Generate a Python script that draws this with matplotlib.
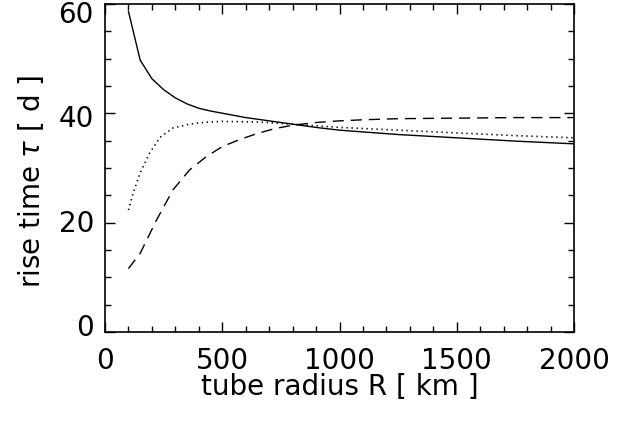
import numpy as np
import matplotlib.pyplot as plt
import matplotlib.transforms as mtransforms
from matplotlib.ticker import MultipleLocator

# tube radius R [km]
R_solid = [100, 150, 200, 250, 300, 350, 400, 450, 500, 600, 700, 800, 900, 1000,
           1250, 1500, 1750, 2000]
tau_solid = [58.6, 49.7, 46.3, 44.3, 42.8, 41.7, 40.9, 40.4, 40.0, 39.2, 38.6, 38.0,
             37.4, 36.9, 36.1, 35.5, 34.9, 34.4]

R_dot = [100, 120, 150, 190, 235, 290, 360, 430, 500, 650, 800, 1000, 1250, 1500, 1750, 2000]
tau_dot = [22.3, 25.4, 29.1, 32.7, 35.6, 37.3, 38.0, 38.35, 38.5, 38.4, 38.0, 37.4,
           36.9, 36.4, 35.9, 35.5]

R_dash = [100, 150, 220, 290, 360, 430, 500, 575, 650, 725, 800, 900, 1000, 1100,
          1250, 1500, 1750, 2000]
tau_dash = [11.6, 14.4, 20.5, 26.0, 29.6, 32.0, 33.9, 35.2, 36.3, 37.2, 37.8, 38.3,
            38.6, 38.8, 39.0, 39.1, 39.2, 39.2]

plt.rcParams['font.family'] = 'DejaVu Sans'

fig = plt.figure(figsize=(6.27, 4.24), dpi=100)
ax = fig.add_axes([0.1675, 0.217, 0.748, 0.774])

ax.plot(R_solid, tau_solid, color='k', lw=1.0)
ax.plot(R_dot, tau_dot, color='k', lw=1.2, linestyle=(0, (0.8, 2.2)))
ax.plot(R_dash, tau_dash, color='k', lw=1.0, linestyle=(0, (8, 5)))

ax.set_xlim(0, 2000)
ax.set_ylim(0, 60)
ax.xaxis.set_major_locator(MultipleLocator(500))
ax.xaxis.set_minor_locator(MultipleLocator(100))
ax.yaxis.set_major_locator(MultipleLocator(20))
ax.yaxis.set_minor_locator(MultipleLocator(5))
ax.tick_params(which='both', direction='in', top=True, right=True, width=1, labelsize=20)
ax.tick_params(which='major', length=7)
ax.tick_params(which='minor', length=4)
ax.tick_params(axis='x', pad=11)
ax.tick_params(axis='y', pad=8)
for s in ax.spines.values():
    s.set_linewidth(1.2)

ax.set_xlabel('tube radius R [ km ]', fontsize=20)
ax.set_ylabel(r'rise time $\tau$ [ d ]', fontsize=20)
ax.xaxis.set_label_coords(0.5, -0.125)
ax.yaxis.set_label_coords(-0.125, 0.46)

# IDL-style: y labels sit a little inside the axis range (top one below its tick)
fig.canvas.draw()
for tick in ax.yaxis.get_major_ticks():
    v = tick.get_loc()
    dy = (-8 + (60 - v) / 60 * 15) / 100.0
    off = mtransforms.ScaledTranslation(0, dy, fig.dpi_scale_trans)
    tick.label1.set_transform(tick.label1.get_transform() + off)

fig.savefig('out.png', dpi=100)
